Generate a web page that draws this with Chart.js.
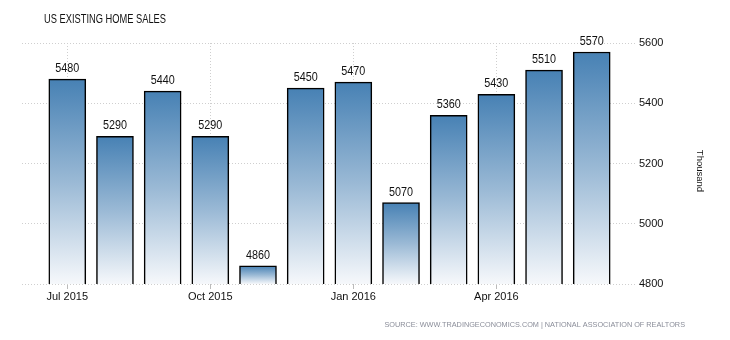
<!DOCTYPE html>
<html>
<head>
<meta charset="utf-8">
<script src="https://cdn.jsdelivr.net/npm/chart.js@4"></script>
<style>
  html, body { margin: 0; padding: 0; background: #fff; }
  #wrap { width: 730px; height: 340px; position: relative; }
</style>
</head>
<body>
<div id="wrap"><canvas id="myChart" width="730" height="340"></canvas></div>
<script>
const months = ['Jul 2015', 'Aug 2015', 'Sep 2015', 'Oct 2015', 'Nov 2015', 'Dec 2015',
                'Jan 2016', 'Feb 2016', 'Mar 2016', 'Apr 2016', 'May 2016', 'Jun 2016'];
const sales = [5480, 5290, 5440, 5290, 4860, 5450, 5470, 5070, 5360, 5430, 5510, 5570];
const tickLabelIdx = [0, 3, 6, 9];
const yTicks = [4800, 5000, 5200, 5400, 5600];

const title = 'US EXISTING HOME SALES';
const unit = 'Thousand';
const source = 'SOURCE: WWW.TRADINGECONOMICS.COM | NATIONAL ASSOCIATION OF REALTORS';

const ctx = document.getElementById('myChart').getContext('2d');

// gradient per bar: blue at its top, almost white at the baseline
function barGradient(context) {
    const chart = context.chart;
    const yScale = chart.scales.y;
    if (!chart.chartArea || !yScale || context.parsed == null) return '#4a84b5';
    const top = yScale.getPixelForValue(context.parsed.y);
    const bottom = chart.chartArea.bottom;
    const g = chart.ctx.createLinearGradient(0, top, 0, bottom);
    g.addColorStop(0, '#4781b4');
    g.addColorStop(0.5, '#9ab9d5');
    g.addColorStop(1, '#f6f8fb');
    return g;
}

// draw text squeezed to a given width (the original uses a narrow font)
function narrowText(c, text, x, y, width) {
    const w = c.measureText(text).width;
    const k = Math.min(1, width / w);
    c.save();
    c.translate(x, y);
    c.scale(k, 1);
    c.fillText(text, 0, 0);
    c.restore();
}

const textPlugin = {
    id: 'texts',
    afterDatasetsDraw(chart) {
        const c = chart.ctx;
        const meta = chart.getDatasetMeta(0);
        c.save();
        c.fillStyle = '#111';
        c.font = '12px "Liberation Sans", Arial, sans-serif';
        c.textAlign = 'center';
        c.textBaseline = 'alphabetic';
        meta.data.forEach((bar, i) => {
            narrowText(c, String(sales[i]), bar.x, bar.y - 7, 24);
        });
        c.restore();
    },
    afterDraw(chart) {
        const c = chart.ctx;
        c.save();
        c.fillStyle = '#111';
        c.font = '12.5px "Liberation Sans", Arial, sans-serif';
        c.textAlign = 'left';
        c.textBaseline = 'alphabetic';
        narrowText(c, title, 44, 22.5, 122);

        c.translate(697, 171);
        c.rotate(Math.PI / 2);
        c.textAlign = 'center';
        c.font = '9.5px "Liberation Sans", Arial, sans-serif';
        c.fillText(unit, 0, 0);
        c.restore();

        c.save();
        c.fillStyle = '#8a8d99';
        c.font = '7.3px "Liberation Sans", Arial, sans-serif';
        c.textAlign = 'right';
        c.textBaseline = 'middle';
        c.fillText(source, 685, 325);
        c.restore();
    }
};

const myChart = new Chart(ctx, {
    type: 'bar',
    data: {
        datasets: [{
            data: sales.map((v, i) => ({ x: i, y: v })),
            backgroundColor: barGradient,
            borderColor: '#000',
            borderWidth: 1.5,
            borderSkipped: false,
            barThickness: 37
        }]
    },
    options: {
        responsive: false,
        animation: false,
        layout: { padding: { left: 22, top: 43, right: 0, bottom: 0 } },
        plugins: {
            legend: { display: false },
            tooltip: { enabled: false }
        },
        scales: {
            x: {
                type: 'linear',
                offset: false,
                min: -0.95,
                max: 11.95,
                afterBuildTicks: (scale) => {
                    scale.ticks = tickLabelIdx.map(i => ({ value: i }));
                },
                afterFit: (scale) => { scale.height = 56; },
                ticks: {
                    callback: (value) => months[value],
                    color: '#111',
                    font: { family: '"Liberation Sans", Arial, sans-serif', size: 11 },
                    padding: 1,
                    maxRotation: 0,
                    autoSkip: false
                },
                grid: {
                    offset: false,
                    color: '#cfcfcf',
                    tickColor: '#bbb',
                    tickLength: 5,
                    tickBorderDash: [0, 0]
                },
                border: { display: false, dash: [1, 2] }
            },
            y: {
                position: 'right',
                min: 4800,
                max: 5600,
                afterBuildTicks: (scale) => {
                    scale.ticks = yTicks.map(v => ({ value: v }));
                },
                afterFit: (scale) => { scale.width = 93; },
                ticks: {
                    callback: (value) => String(value),
                    color: '#111',
                    font: { family: '"Liberation Sans", Arial, sans-serif', size: 11 },
                    padding: 2
                },
                grid: {
                    color: '#cfcfcf',
                    drawTicks: false
                },
                border: { display: false, dash: [1, 2] }
            }
        }
    },
    plugins: [textPlugin]
});
</script>
</body>
</html>
